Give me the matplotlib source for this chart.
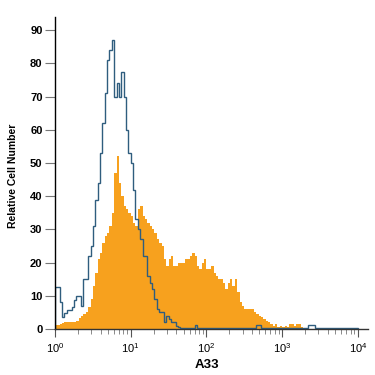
import numpy as np
import matplotlib
matplotlib.use("Agg")
import matplotlib.pyplot as plt
from matplotlib.ticker import LogLocator, FixedLocator

plt.rcParams['font.family'] = ['Liberation Sans Narrow', 'Liberation Sans', 'DejaVu Sans']

# 128 log-spaced channels over 4 decades (10^0 .. 10^4)
n_bins = 128
edges = np.logspace(0, 4, n_bins + 1)

# A33 stained (filled orange)
stained = [
    1.2, 1.2, 1.5, 1.8, 2, 2, 2, 2, 2.2, 2.5,
    3.3, 4, 4.5, 5, 6.6, 9, 13, 17, 21, 23,
    26, 28, 29, 31, 35, 47, 52, 44, 40, 37,
    36, 35, 34, 32, 31, 36, 37, 34, 33, 32,
    31, 30, 29, 27, 26, 25, 21, 19, 21, 22,
    19, 19, 20, 20, 20, 21, 21, 22, 23, 22,
    19, 18, 20, 21, 18, 18, 19, 17, 16, 15,
    15, 14, 12, 14, 15, 13, 15, 11, 8, 7,
    6, 6, 6, 6, 5, 4.5, 4, 3.5, 3, 2.5,
    2, 1.5, 0.8, 1.5, 0.5, 1, 0.5, 1, 0.5, 1.5,
    1.5, 1, 1.5, 1.5, 0.5, 0, 0, 0, 0, 0,
    0, 0, 0, 0, 0, 0, 0, 0, 0, 0,
    0, 0, 0, 0, 0, 0, 0, 0,
]

# Isotype control (open blue outline)
control = [
    12.6, 12.6, 8, 3.6, 4.7, 5.7, 5.7, 6.6, 8.7, 10,
    10, 7, 15, 15, 22, 25, 31, 39, 44, 53,
    62, 71, 81, 84, 87, 70, 74, 70, 77.5, 70,
    60, 53, 50, 42, 33, 30, 27, 22, 22, 16,
    14, 12, 9, 6, 5, 5, 2, 4, 3, 2,
    2, 1, 0.5, 0.3, 0.3, 0.3, 0.3, 0.3, 0.3, 1.3,
    0.3, 0.3, 0.3, 0.3, 0.3, 0.3, 0.3, 0.3, 0.3, 0.3,
    0.3, 0.3, 0.3, 0.3, 0.3, 0.3, 0.3, 0.3, 0.3, 0.3,
    0.3, 0.3, 0.3, 0.3, 0.3, 1.2, 1.2, 0.3, 0.3, 0.3,
    0.3, 0.3, 0.3, 0.3, 0.3, 0.3, 0.3, 0.3, 0.3, 0.3,
    0.3, 0.3, 0.3, 0.3, 0.3, 0.3, 0.3, 1.2, 1.2, 1.2,
    0.3, 0.3, 0.3, 0.3, 0.3, 0.3, 0.3, 0.3, 0.3, 0.3,
    0.3, 0.3, 0.3, 0.3, 0.3, 0.3, 0.3, 0.3,
]

y_ticks = [0, 10, 20, 30, 40, 50, 60, 70, 80, 90]
x_label = "A33"
y_label = "Relative Cell Number"

fig = plt.figure(figsize=(3.75, 3.75), dpi=100)
ax = fig.add_axes([0.1467, 0.1227, 0.834, 0.832])

ax.stairs(stained, edges, fill=True, color="#F7A11E", linewidth=0)
ax.stairs(control, edges, fill=False, color="#2F5D7E", linewidth=1.0)

ax.set_xscale("log")
ax.set_xlim(1, 10 ** 4.13)
ax.set_ylim(0, 94)

for s in ["top", "right"]:
    ax.spines[s].set_visible(False)
ax.spines["left"].set_color("black")
ax.spines["bottom"].set_color("#333333")
ax.spines["left"].set_linewidth(1.0)
ax.spines["bottom"].set_linewidth(1.0)

ax.yaxis.set_major_locator(FixedLocator(y_ticks))
ax.tick_params(axis="y", direction="out", length=7, width=0.8, color="#777777",
               labelsize=8, pad=2)
for lab in ax.get_yticklabels():
    lab.set_fontweight("bold")

ax.xaxis.set_major_locator(LogLocator(base=10, numticks=10))
ax.xaxis.set_minor_locator(LogLocator(base=10, subs=np.arange(2, 10), numticks=20))
ax.tick_params(axis="x", which="major", direction="out", length=6, width=0.8,
               color="#555555", labelsize=8, pad=3)
ax.tick_params(axis="x", which="minor", direction="out", length=3.5, width=0.6,
               color="#777777")

ax.set_xlabel(x_label, fontsize=9.5, fontweight="bold")
ax.set_ylabel(y_label, fontsize=7.5, fontweight="bold")
ax.xaxis.set_label_coords(0.486, -0.095)
ax.yaxis.set_label_coords(-0.118, 0.49)

fig.savefig("out.png", dpi=100)
